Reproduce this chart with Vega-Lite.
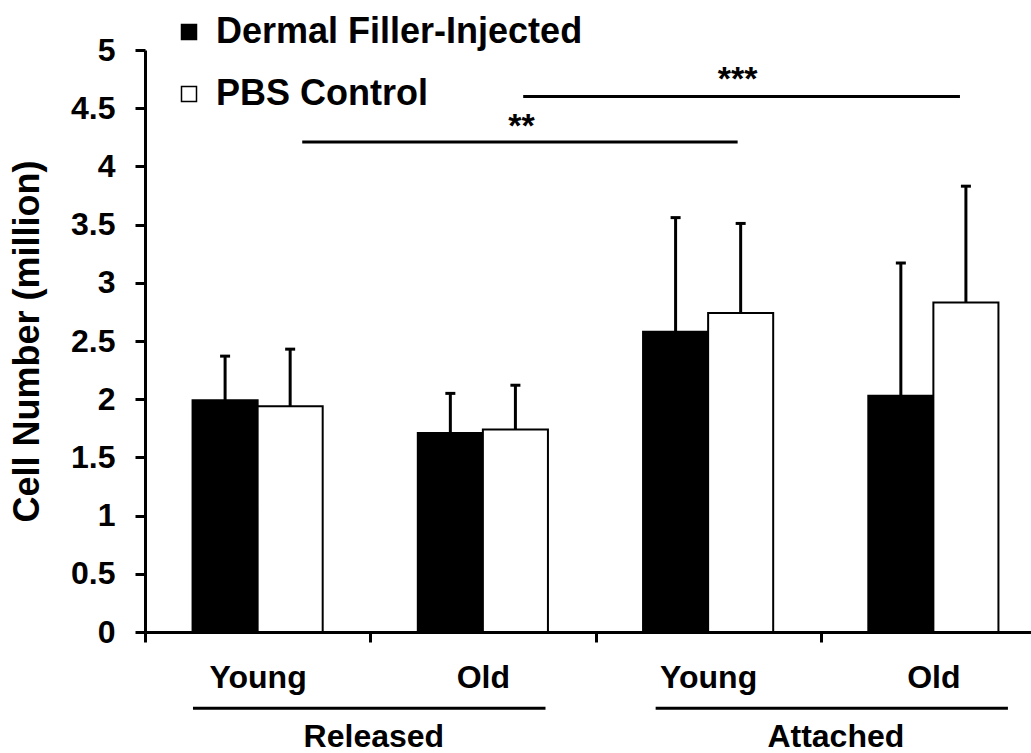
{
  "$schema": "https://vega.github.io/schema/vega-lite/v6.json",
  "width": 886,
  "height": 582,
  "autosize": {"type": "none"},
  "padding": {"left": 145, "top": 50, "right": 0, "bottom": 121},
  "background": "white",
  "config": {
    "view": {"stroke": null},
    "font": "Liberation Sans",
    "axis": {"domainColor": "black", "tickColor": "black", "labelColor": "black", "titleColor": "black", "grid": false},
    "axisY": {
      "title": "Cell Number (million)", "titleFontSize": 36, "titleFontWeight": "bold", "titlePadding": 24,
      "values": [0, 0.5, 1, 1.5, 2, 2.5, 3, 3.5, 4, 4.5, 5],
      "labelExpr": "datum.value",
      "domainWidth": 3, "tickWidth": 3, "tickSize": 10,
      "labelFontSize": 32, "labelFontWeight": "bold", "labelPadding": 20
    }
  },
  "layer": [
    {
      "data": {
        "values": [
          {"cat": "Released Young", "treatment": "Dermal Filler-Injected", "mean": 1.99, "upper": 2.37},
          {"cat": "Released Young", "treatment": "PBS Control", "mean": 1.94, "upper": 2.43},
          {"cat": "Released Old", "treatment": "Dermal Filler-Injected", "mean": 1.71, "upper": 2.05},
          {"cat": "Released Old", "treatment": "PBS Control", "mean": 1.74, "upper": 2.12},
          {"cat": "Attached Young", "treatment": "Dermal Filler-Injected", "mean": 2.58, "upper": 3.56},
          {"cat": "Attached Young", "treatment": "PBS Control", "mean": 2.74, "upper": 3.51},
          {"cat": "Attached Old", "treatment": "Dermal Filler-Injected", "mean": 2.03, "upper": 3.17},
          {"cat": "Attached Old", "treatment": "PBS Control", "mean": 2.83, "upper": 3.83}
        ]
      },
      "encoding": {
        "x": {
          "field": "cat", "type": "nominal",
          "sort": ["Released Young", "Released Old", "Attached Young", "Attached Old"],
          "scale": {"range": [0, 901], "paddingInner": 0, "paddingOuter": 0},
          "axis": {
            "title": null, "labelAngle": 0, "labelExpr": "split(datum.label, ' ')[1]",
            "domainWidth": 3, "tickWidth": 3, "tickSize": 10, "tickBand": "extent",
            "labelFontSize": 32, "labelFontWeight": "bold", "labelPadding": 20
          }
        },
        "xOffset": {
          "field": "treatment", "type": "nominal",
          "sort": ["Dermal Filler-Injected", "PBS Control"],
          "scale": {"paddingInner": 0, "paddingOuter": 0.731}
        }
      },
      "layer": [
        {
          "mark": {"type": "bar", "stroke": "black", "strokeWidth": 2},
          "encoding": {
            "y": {
              "field": "mean", "type": "quantitative",
              "scale": {"domain": [0, 5], "nice": false, "zero": true},
              "title": "Cell Number (million)"
            },
            "fill": {
              "field": "treatment", "type": "nominal",
              "scale": {"domain": ["Dermal Filler-Injected", "PBS Control"], "range": ["#000000", "#ffffff"]},
              "legend": {
                "title": null, "orient": "none", "legendX": 26, "legendY": -36,
                "symbolType": "square", "symbolSize": 225, "symbolStrokeColor": "black", "symbolStrokeWidth": 1.5,
                "labelFontSize": 36, "labelFontWeight": "bold", "labelColor": "black", "labelLimit": 0,
                "labelOffset": 9, "rowPadding": 26
              }
            }
          }
        },
        {
          "mark": {"type": "rule", "strokeWidth": 3, "color": "black"},
          "encoding": {
            "y": {"field": "mean", "type": "quantitative", "title": "Cell Number (million)"},
            "y2": {"field": "upper"}
          }
        },
        {
          "mark": {"type": "tick", "thickness": 3, "size": 10, "color": "black", "opacity": 1},
          "encoding": {
            "y": {"field": "upper", "type": "quantitative", "title": "Cell Number (million)"}
          }
        }
      ]
    },
    {
      "data": {
        "values": [
          {"x": 0.698, "x2": 2.631, "y": 4.21},
          {"x": 1.679, "x2": 3.618, "y": 4.6},
          {"x": 0.213, "x2": 1.778, "y": -0.655},
          {"x": 2.267, "x2": 3.831, "y": -0.655}
        ]
      },
      "mark": {"type": "rule", "strokeWidth": 3, "color": "black"},
      "encoding": {
        "x": {"field": "x", "type": "quantitative", "scale": {"domain": [0, 4], "range": [0, 901]}, "axis": null},
        "x2": {"field": "x2"},
        "y": {"field": "y", "type": "quantitative", "title": "Cell Number (million)"}
      }
    },
    {
      "data": {
        "values": [
          {"x": 1.671, "y": 4.25, "label": "**"},
          {"x": 2.631, "y": 4.656, "label": "***"}
        ]
      },
      "mark": {"type": "text", "fontSize": 34, "fontWeight": "bold", "align": "center", "baseline": "alphabetic", "color": "black"},
      "encoding": {
        "x": {"field": "x", "type": "quantitative", "scale": {"domain": [0, 4], "range": [0, 901]}, "axis": null},
        "y": {"field": "y", "type": "quantitative", "title": "Cell Number (million)"},
        "text": {"field": "label"}
      }
    },
    {
      "data": {
        "values": [
          {"x": 1.016, "y": -0.99, "label": "Released"},
          {"x": 3.067, "y": -0.99, "label": "Attached"}
        ]
      },
      "mark": {"type": "text", "fontSize": 32, "fontWeight": "bold", "align": "center", "baseline": "alphabetic", "color": "black"},
      "encoding": {
        "x": {"field": "x", "type": "quantitative", "scale": {"domain": [0, 4], "range": [0, 901]}, "axis": null},
        "y": {"field": "y", "type": "quantitative", "title": "Cell Number (million)"},
        "text": {"field": "label"}
      }
    }
  ],
  "resolve": {"scale": {"x": "independent"}}
}
